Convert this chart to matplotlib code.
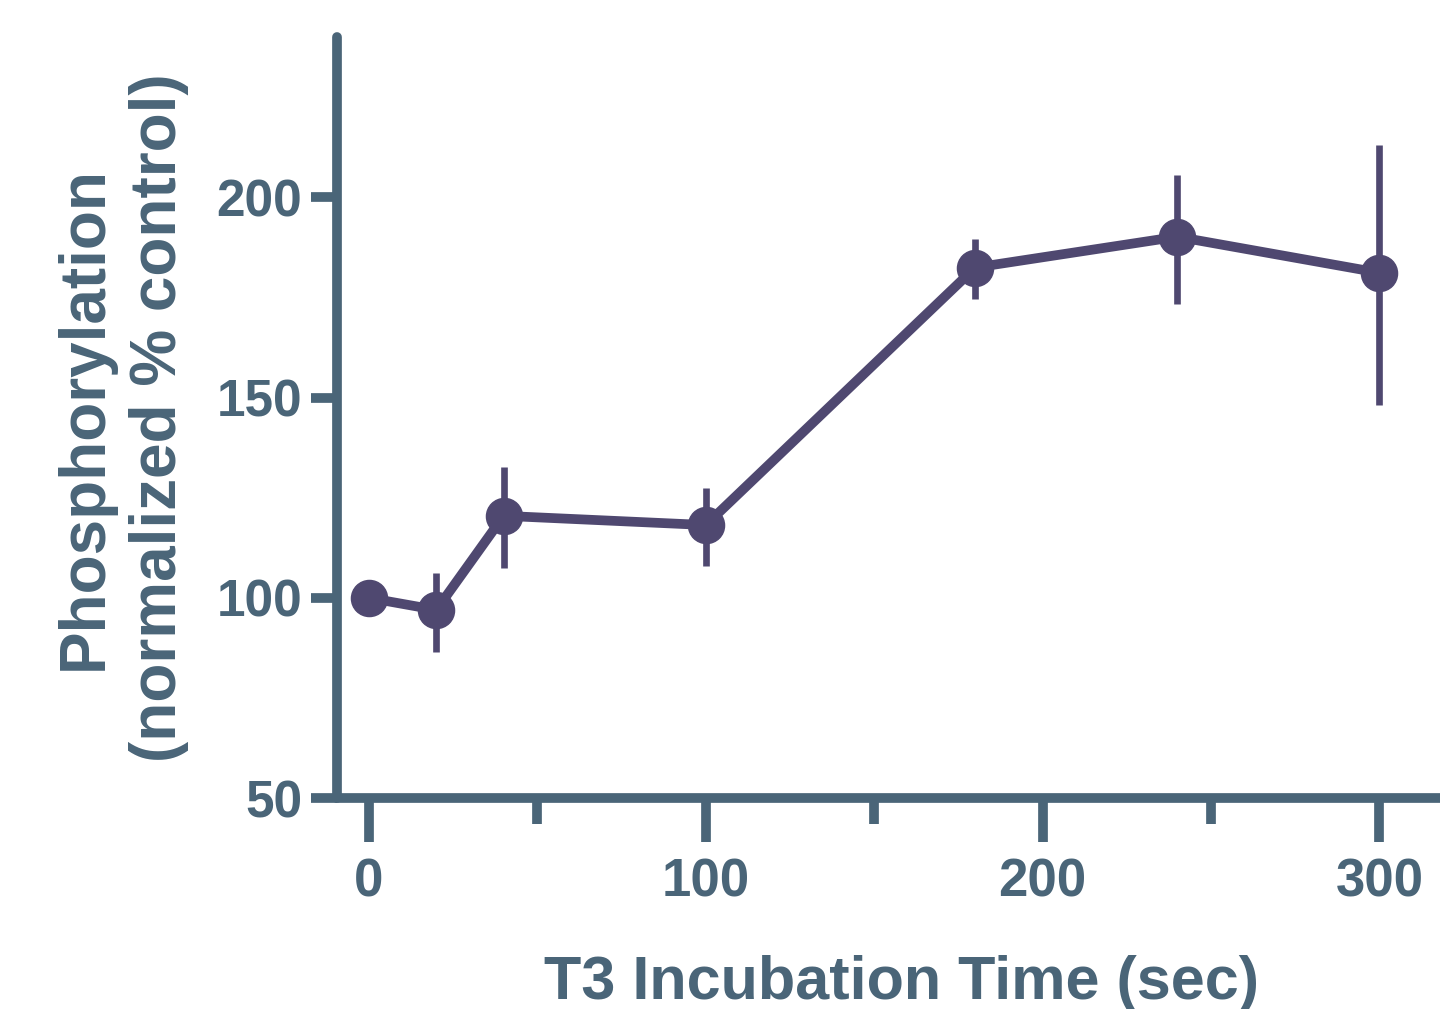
import matplotlib
matplotlib.use("Agg")
import matplotlib.pyplot as plt
from matplotlib.ticker import MultipleLocator

# data
time_sec = [0, 20, 40, 100, 180, 240, 300]
phospho = [100, 97, 120.5, 118.2, 182.5, 190.2, 181.2]
err_up = [0, 9.2, 12.3, 9.3, 7.2, 15.5, 31.8]
err_down = [0, 10.5, 13.0, 10.2, 7.8, 16.7, 33.0]

y_ticks = [50, 100, 150, 200]
x_ticks = [0, 100, 200, 300]

axis_col = "#4a6578"
line_col = "#4f4870"

plt.rcParams["font.family"] = ["Liberation Sans", "DejaVu Sans"]
plt.rcParams["font.weight"] = "bold"

fig = plt.figure(figsize=(14.4, 10.09), dpi=100)
ax = fig.add_axes([0.234, 0.209, 0.766, 0.754])

ax.errorbar(time_sec, phospho, yerr=[err_down, err_up], color=line_col,
            lw=7, elinewidth=4.8, capsize=0, marker="o", ms=26,
            solid_capstyle="round", solid_joinstyle="round", clip_on=False, zorder=3)

ax.set_xlim(-9.5, 318)
ax.set_ylim(50, 240)
ax.set_xticks(x_ticks)
ax.set_yticks(y_ticks)
ax.xaxis.set_minor_locator(MultipleLocator(50))

for s in ["top", "right"]:
    ax.spines[s].set_visible(False)
for s in ["left", "bottom"]:
    ax.spines[s].set_linewidth(7)
    ax.spines[s].set_color(axis_col)
    ax.spines[s].set_capstyle("round")

ax.tick_params(axis="x", which="major", length=32, width=7, color=axis_col,
               labelcolor=axis_col, labelsize=38, pad=11)
ax.tick_params(axis="x", which="minor", length=19, width=7, color=axis_col)
ax.tick_params(axis="y", which="major", length=19, width=7, color=axis_col,
               labelcolor=axis_col, labelsize=37, pad=6)
for lab in ax.get_xticklabels() + ax.get_yticklabels():
    lab.set_fontweight("bold")

ax.set_xlabel("T3 Incubation Time (sec)", fontsize=44, fontweight="bold",
              color=axis_col)
ax.xaxis.set_label_coords(0.512, -0.206)
ax.set_ylabel("Phosphorylation\n(normalized % control)", fontsize=46,
              fontweight="bold", color=axis_col, labelpad=20, linespacing=1.3)

fig.savefig("out.png", dpi=100)
